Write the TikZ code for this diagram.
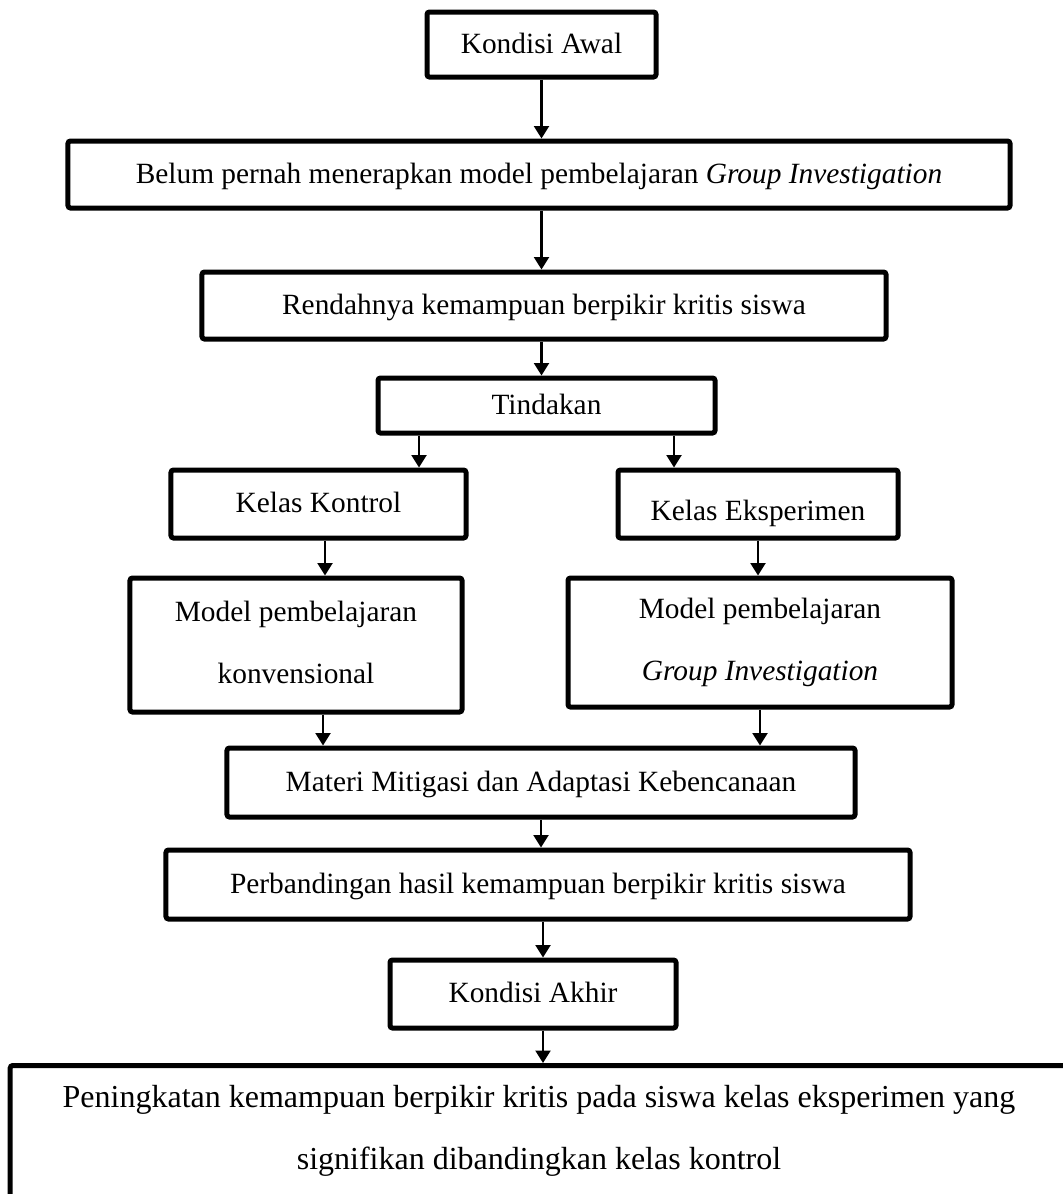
\documentclass[tikz,border=0pt]{standalone}
\usepackage{fontspec}
\setmainfont{Liberation Serif}
\usepackage{tikz}
\usetikzlibrary{arrows.meta,calc}
\tikzset{
  basebox/.style={draw=black, line width=2pt, rounded corners=1pt, fill=white,
    align=center, inner sep=0pt, font=\fontsize{11.75}{24.8}\selectfont},
  stepbox/.style={basebox, text height=8pt, text depth=1pt},
  tallbox/.style={basebox},
  flowarrow/.style={-{Triangle[length=5pt,width=6pt]}, line width=0.9pt, draw=black}
}

\begin{document}
\begin{tikzpicture}[x=0.4pt,y=-0.4pt]
        \useasboundingbox (0,0) rectangle (1063,1194);
        \clip (0,0) rectangle (1063,1194);

        \node[stepbox, minimum width=91.6pt, minimum height=26pt] (awal) at (541.5,44.5) {Kondisi Awal};
        \node[stepbox, minimum width=376.8pt, minimum height=26.8pt] (belum) at (539,174.5)
            {Belum pernah menerapkan model pembelajaran \textit{Group Investigation}};
        \node[stepbox, minimum width=273.6pt, minimum height=26.8pt] (rendah) at (544,305.5)
            {Rendahnya kemampuan berpikir kritis siswa};
        \node[stepbox, minimum width=134.8pt, minimum height=22pt] (tind) at (546.5,405.5) {Tindakan};
        \node[stepbox, minimum width=118pt, minimum height=27.2pt] (kontrol) at (318.5,504) {Kelas Kontrol};
        \node[stepbox, text height=12.8pt, text depth=0pt, minimum width=112pt, minimum height=27.2pt]
            (eksp) at (758,504) {Kelas Eksperimen};
        \node[tallbox, minimum width=132.8pt, minimum height=53.6pt] (konv) at (296,645)
            {Model pembelajaran\\konvensional\vphantom{p}};
        \node[tallbox, minimum width=153.6pt, minimum height=51.6pt] (gi) at (760,642.5)
            {Model pembelajaran\\\textit{Group Investigation}};
        \node[stepbox, minimum width=251.2pt, minimum height=27.6pt] (materi) at (541,782.5)
            {Materi Mitigasi dan Adaptasi Kebencanaan};
        \node[stepbox, minimum width=297.6pt, minimum height=27.6pt] (perb) at (538,884.5)
            {Perbandingan hasil kemampuan berpikir kritis siswa};
        \node[stepbox, minimum width=114.4pt, minimum height=27.2pt] (akhir) at (533,994) {Kondisi Akhir};
        \node[basebox, anchor=north, align=flush center, text width=416pt, inner xsep=3.5pt,
            font=\fontsize{12.8}{24.8}\selectfont, text height=16.8pt, text depth=60pt] (pen) at (539,1063)
            {Peningkatan kemampuan berpikir kritis pada siswa kelas eksperimen yang\\
             signifikan dibandingkan kelas kontrol};

        % arrow positions
        \coordinate (tk) at ([xshift=40.2pt]kontrol.north);
        \coordinate (te) at ([xshift=-33.6pt]eksp.north);
        \coordinate (kk) at ([xshift=2.6pt]kontrol.south);
        \coordinate (km) at ([xshift=10.8pt]konv.south);
        \coordinate (pa) at ([xshift=4pt]akhir.north);
        \coordinate (ap) at ([xshift=4pt]akhir.south);

        \draw[flowarrow] (awal.south) -- (awal.south |- belum.north);
        \draw[flowarrow] (belum.south -| awal.south) -- (awal.south |- rendah.north);
        \draw[flowarrow] (rendah.south -| awal.south) -- (awal.south |- tind.north);
        \draw[flowarrow] (tk |- tind.south) -- (tk);
        \draw[flowarrow] (te |- tind.south) -- (te);
        \draw[flowarrow] (kk) -- (kk |- konv.north);
        \draw[flowarrow] (eksp.south) -- (eksp.south |- gi.north);
        \draw[flowarrow] (km) -- (km |- materi.north);
        \draw[flowarrow] (gi.south) -- (gi.south |- materi.north);
        \draw[flowarrow] (materi.south) -- (materi.south |- perb.north);
        \draw[flowarrow] (pa |- perb.south) -- (pa);
        \draw[flowarrow] (ap) -- (ap |- pen.north);
    \end{tikzpicture}
\end{document}
